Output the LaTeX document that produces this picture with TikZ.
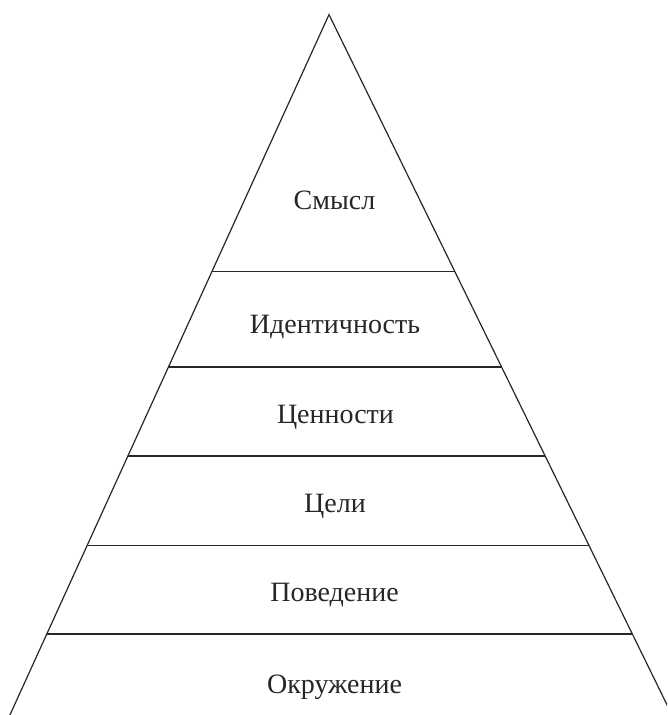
\documentclass[tikz,border=0pt]{standalone}
\usepackage{fontspec}
\setmainfont{Liberation Serif}
\usetikzlibrary{calc}
\begin{document}
\begin{tikzpicture}[x=1pt,y=-1pt,
  edge/.style={draw=black!85,line width=1.2pt},
  lbl/.style={anchor=base,font=\fontsize{28}{32}\selectfont,text=black!85,inner sep=0pt}]
\useasboundingbox (0,0) rectangle (667,715);
\clip (0,0) rectangle (667,715);
\coordinate (A) at (329,14.6);
\coordinate (BL) at (9.9,715);
\coordinate (BR) at (672,715);
\draw[edge] (BL) -- (A) -- (BR);
\foreach \yy/\nm in {271.7/l1,367/l2,456/l3,545.7/l4,634/l5}{
  \pgfmathsetmacro{\tt}{(\yy-14.6)/(715-14.6)}
  \coordinate (\nm L) at ($(A)!\tt!(BL)$);
  \coordinate (\nm R) at ($(A)!\tt!(BR)$);
  \draw[edge] (\nm L) -- (\nm R);
}
\node[lbl] (t1) at (334.5,209) {Смысл};
\node[lbl] (t2) at (335,333) {Идентичность};
\node[lbl] (t3) at (335.5,423) {Ценности};
\node[lbl] (t4) at (335,512) {Цели};
\node[lbl] (t5) at (334.5,601) {Поведение};
\node[lbl] (t6) at (334.5,693) {Окружение};
\end{tikzpicture}
\end{document}
